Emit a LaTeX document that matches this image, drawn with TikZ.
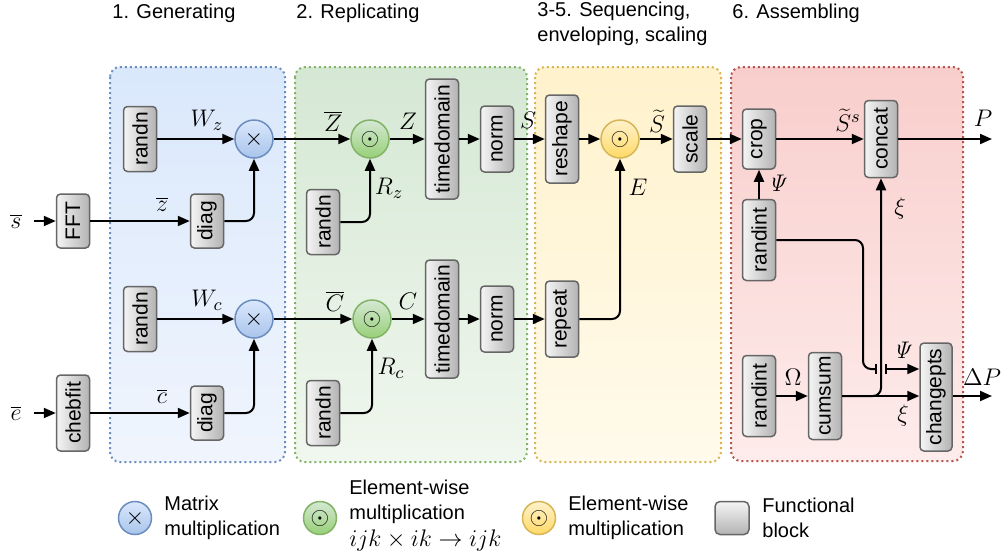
\documentclass[tikz,border=0pt]{standalone}
\usepackage[no-math]{fontspec}
\setmainfont{Liberation Sans}
\usetikzlibrary{arrows.meta}

\definecolor{blkborder}{HTML}{666666}
\definecolor{blkL}{HTML}{F5F5F5}
\definecolor{blkR}{HTML}{B3B3B3}
\definecolor{blueline}{HTML}{6C8EBF}
\definecolor{bluetop}{HTML}{DAE8FC}
\definecolor{bluebot}{HTML}{A9C4EB}
\definecolor{greenline}{HTML}{82B366}
\definecolor{greentop}{HTML}{D5E8D4}
\definecolor{greenbot}{HTML}{97D077}
\definecolor{yellowline}{HTML}{D6B656}
\definecolor{yellowtop}{HTML}{FFF2CC}
\definecolor{yellowbot}{HTML}{FFD966}
\definecolor{redline}{HTML}{B85450}
\definecolor{bgblueA}{HTML}{DAE8FC}
\definecolor{bgblueB}{HTML}{F0F5FD}
\definecolor{bggreenA}{HTML}{D5E8D4}
\definecolor{bggreenB}{HTML}{F0F7EE}
\definecolor{bgyellowA}{HTML}{FFF2CC}
\definecolor{bgyellowB}{HTML}{FFFAEB}
\definecolor{bgredA}{HTML}{F8CECC}
\definecolor{bgredB}{HTML}{FDECEB}

\tikzset{
  blk/.style={rectangle, rounded corners=2pt, draw=blkborder, line width=0.75pt,
    left color=blkL, right color=blkR, minimum width=16.5pt, inner sep=0pt,
    font=\fontsize{10.5}{12}\selectfont},
  opnode/.style={circle, line width=0.75pt, minimum size=19pt, inner sep=0pt,
    font=\fontsize{12.5}{13}\selectfont},
  matmul/.style={opnode, draw=blueline, top color=bluetop, bottom color=bluebot},
  ewgreen/.style={opnode, draw=greenline, top color=greentop, bottom color=greenbot},
  ewyellow/.style={opnode, draw=yellowline, top color=yellowtop, bottom color=yellowbot},
  arr/.style={line width=1pt, -{Triangle[length=6pt,width=5pt]}},
  wire/.style={line width=1pt, rounded corners=4pt},
  lbl/.style={font=\fontsize{12.5}{14}\selectfont, inner sep=0pt},
  grp/.style={rounded corners=5pt, line width=1pt, dash pattern=on 1pt off 1.5pt},
  ttl/.style={font=\fontsize{10}{12.5}\selectfont, inner sep=0pt, anchor=west, align=left},
  legtxt/.style={font=\fontsize{10}{12.5}\selectfont, inner sep=0pt, anchor=west, align=left},
}

\begin{document}
\begin{tikzpicture}[x=0.5pt, y=-0.5pt]
\useasboundingbox (0,0) rectangle (1003,559);
\fill[white] (0,0) rectangle (1003,559);

% stage panels
\draw[grp, draw=blueline, top color=bgblueA, bottom color=bgblueB] (110,67) rectangle (285,462);
\draw[grp, draw=greenline, top color=bggreenA, bottom color=bggreenB] (295,67) rectangle (527,462);
\draw[grp, draw=yellowline, top color=bgyellowA, bottom color=bgyellowB] (535,67) rectangle (721,462);
\draw[grp, draw=redline, top color=bgredA, bottom color=bgredB] (731,67) rectangle (963,461);

% stage titles
\node[ttl] (t1) at (112,13) {1. Generating};
\node[ttl] (t2) at (296,13) {2. Replicating};
\node[ttl] (t3) at (537,24) {3-5. Sequencing,\\enveloping, scaling};
\node[ttl] (t4) at (732,13) {6. Assembling};

% 1. generating
\node[blk, minimum height=32.5pt] (rz) at (140,139) {\rotatebox{90}{randn}};
\node[matmul] (mz) at (254,139) {$\times$};
\node[blk, minimum height=27pt] (fft) at (73,221) {\rotatebox{90}{FFT}};
\node[blk, minimum height=27pt] (dz) at (207,221) {\rotatebox{90}{diag}};
\node[blk, minimum height=32.5pt] (rc) at (140,319) {\rotatebox{90}{randn}};
\node[matmul] (mc) at (254,319) {$\times$};
\node[blk, minimum height=38pt] (cheb) at (73,413) {\rotatebox{90}{chebfit}};
\node[blk, minimum height=27pt] (dc) at (207,413) {\rotatebox{90}{diag}};

\node[lbl] (slbl) at (16,221) {$\overline{s}$};
\node[lbl] (elbl) at (16,413) {$\overline{e}$};
\coordinate (sin) at (34,221);
\coordinate (ein) at (34,413);

% 2. replicating
\node[ewgreen] (ez) at (370,139) {$\odot$};
\node[blk, minimum height=32.5pt] (rzg) at (323,222) {\rotatebox{90}{randn}};
\node[blk, minimum height=60pt] (tdz) at (442,139) {\rotatebox{90}{timedomain}};
\node[blk, minimum height=33pt] (nz) at (497,139) {\rotatebox{90}{norm}};
\node[ewgreen] (ec) at (372,319) {$\odot$};
\node[blk, minimum height=32.5pt] (rcg) at (323,413) {\rotatebox{90}{randn}};
\node[blk, minimum height=59pt] (tdc) at (442,319) {\rotatebox{90}{timedomain}};
\node[blk, minimum height=33pt] (nc) at (497,319) {\rotatebox{90}{norm}};

% 3-5. sequencing, enveloping, scaling
\node[blk, minimum height=44pt] (resh) at (562,139) {\rotatebox{90}{reshape}};
\node[ewyellow] (ey) at (620,139) {$\odot$};
\node[blk, minimum height=33pt] (scl) at (690,139) {\rotatebox{90}{scale}};
\node[blk, minimum height=38pt] (rep) at (562,319) {\rotatebox{90}{repeat}};

% 6. assembling
\node[blk, minimum height=30pt] (crop) at (759,139) {\rotatebox{90}{crop}};
\node[blk, minimum height=38.5pt] (cat) at (881,139) {\rotatebox{90}{concat}};
\node[blk, minimum height=40.5pt] (ri1) at (759,240) {\rotatebox{90}{randint}};
\node[blk, minimum height=40.5pt] (ri2) at (759,396) {\rotatebox{90}{randint}};
\node[blk, minimum height=43.5pt] (cs) at (825,396) {\rotatebox{90}{cumsum}};
\node[blk, minimum height=54pt, minimum width=16pt] (chp) at (936,397) {\rotatebox{90}{changepts}};
\coordinate (pout) at (992,139);
\coordinate (dpout) at (992,396);
\coordinate (psiA) at (863,240);
\coordinate (psiB) at (877,369);
\coordinate (psiC) at (885,369);

% connectors: generating
\draw[arr] (sin) -- (fft);
\draw[arr] (ein) -- (cheb);
\draw[arr] (rz) -- (mz);
\draw[arr] (fft) -- (dz);
\draw[arr, rounded corners=4pt] (dz.east) -| (mz.south);
\draw[arr] (rc) -- (mc);
\draw[arr] (cheb) -- (dc);
\draw[arr, rounded corners=4pt] (dc.east) -| (mc.south);

% connectors: replicating
\draw[arr] (mz) -- (ez);
\draw[arr, rounded corners=4pt] (rzg.east) -| (ez.south);
\draw[arr] (ez) -- (tdz);
\draw[arr] (tdz) -- (nz);
\draw[arr] (mc) -- (ec);
\draw[arr, rounded corners=4pt] (rcg.east) -| (ec.south);
\draw[arr] (ec) -- (tdc);
\draw[arr] (tdc) -- (nc);

% connectors: sequencing
\draw[arr] (nz) -- (resh);
\draw[arr] (resh) -- (ey);
\draw[arr] (ey) -- (scl);
\draw[arr] (nc) -- (rep);
\draw[arr, rounded corners=4pt] (rep.east) -| (ey.south);

% connectors: assembling
\draw[arr] (scl) -- (crop);
\draw[arr] (crop) -- (cat);
\draw[arr] (cat) -- (pout);
\draw[arr] (ri1) -- (crop);
\draw[arr] (ri2) -- (cs);
\draw[arr] (cs) -- (cs -| chp.west);
\draw[arr, rounded corners=4pt] (cs.east) -| (cat.south);
\draw[wire, -{Bar[width=5pt]}] (ri1.east |- psiA) -- (psiA) |- (psiB);
\draw[line width=1pt, {Bar[width=5pt]}-{Triangle[length=6pt,width=5pt]}] (psiC) -- (psiC -| chp.west);
\draw[arr] (chp.east |- dpout) -- (dpout);

% signal labels
\node[lbl] at (207,120) {$W_z$};
\node[lbl] at (162,204) {$\overline{z}$};
\node[lbl] at (207,300) {$W_c$};
\node[lbl] at (162,396) {$\overline{c}$};
\node[lbl] at (333,121) {$\overline{Z}$};
\node[lbl] at (408,121) {$Z$};
\node[lbl] at (389,188) {$R_z$};
\node[lbl] at (528,120) {$S$};
\node[lbl] at (335,301) {$\overline{C}$};
\node[lbl] at (408,301) {$C$};
\node[lbl] at (391,368) {$R_c$};
\node[lbl] at (657,121) {$\widetilde{S}$};
\node[lbl] at (638,187) {$E$};
\node[lbl] at (848,120) {$\widetilde{S}^s$};
\node[lbl] at (983,118) {$P$};
\node[lbl] at (778,183) {$\mathit{\Psi}$};
\node[lbl] at (900,208) {$\xi$};
\node[lbl] at (903,350) {$\mathit{\Psi}$};
\node[lbl] at (793,377) {$\Omega$};
\node[lbl] at (903,415) {$\xi$};
\node[lbl] at (982,377) {$\Delta P$};

% legend
\node[matmul, minimum size=16.5pt] (lg1) at (135,518) {$\times$};
\node[legtxt] (lt1) at (164,518) {Matrix\\multiplication};
\node[ewgreen, minimum size=16.5pt] (lg2) at (320,518) {$\odot$};
\node[legtxt] (lt2) at (349,516) {Element-wise\\multiplication\\[1pt]\fontsize{12}{12}\selectfont$ijk\times ik\to ijk$};
\node[ewyellow, minimum size=16.5pt] (lg3) at (539,518) {$\odot$};
\node[legtxt] (lt3) at (568,518) {Element-wise\\multiplication};
\node[rectangle, rounded corners=2.5pt, draw=blkborder, line width=0.75pt,
  top color=blkL, bottom color=blkR, minimum width=17pt, minimum height=16.5pt] (lg4) at (732,518) {};
\node[legtxt] (lt4) at (762,518) {Functional\\block};
\end{tikzpicture}
\end{document}
